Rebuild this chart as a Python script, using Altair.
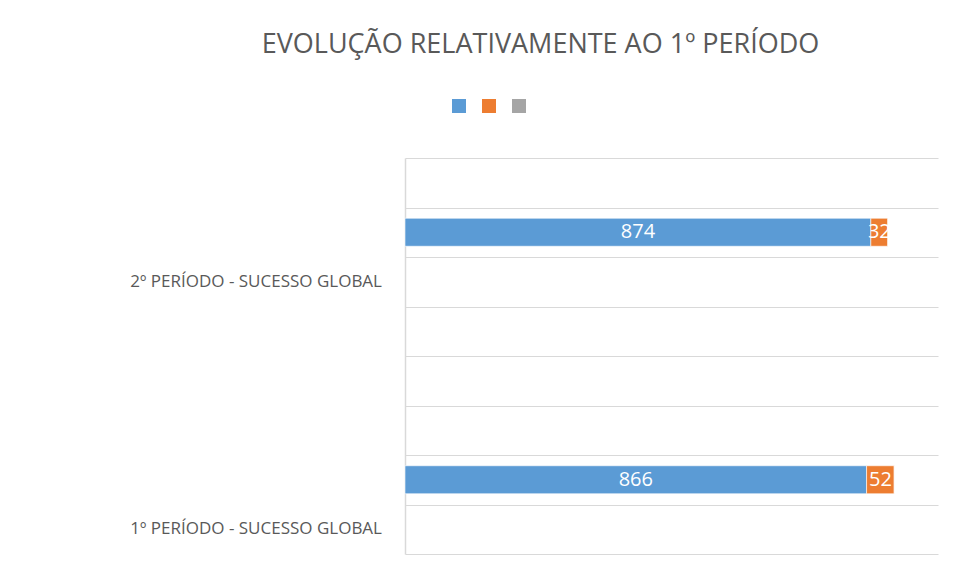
import altair as alt
import pandas as pd

# ---- data ----
categories = ["2º PERÍODO - SUCESSO GLOBAL", "1º PERÍODO - SUCESSO GLOBAL"]
series_names = ["Série1", "Série2", "Série3"]
serie1 = [874, 866]
serie2 = [32, 52]
serie3 = [0, 0]
title_text = "EVOLUÇÃO RELATIVAMENTE AO 1º PERÍODO"

# ---- styling / layout ----
colors = ["#5b9bd5", "#ed7d31", "#a5a5a5"]
N_ROWS = 8               # grid rows drawn in the plot area
BAR_ROW = [1.5, 6.5]     # row centre of each category's bar
FONT = "Open Sans"
GREY = "#595959"

rows = []
for i, cat in enumerate(categories):
    for s, vals in enumerate([serie1, serie2, serie3]):
        rows.append(dict(cat=cat, series=series_names[s], order=s,
                         value=vals[i], ypos=BAR_ROW[i]))
df = pd.DataFrame(rows)
lab = pd.DataFrame(dict(cat=categories, ypos=[BAR_ROW[i] + 1 for i in range(len(categories))]))

yscale = alt.Scale(domain=[0, N_ROWS], reverse=True, nice=False, zero=False, padding=0)
xscale = alt.Scale(domain=[0, 1000], nice=False, padding=0)

base = alt.Chart(df)

bars = base.mark_bar(orient="horizontal", size=28, stroke="white", strokeWidth=0.6).encode(
    y=alt.Y("ypos:Q", scale=yscale,
            axis=alt.Axis(values=list(range(N_ROWS + 1)), labels=False, ticks=False,
                          title=None, grid=True, gridColor="#d9d9d9", gridWidth=1,
                          domainColor="#d9d9d9", domainWidth=1.5)),
    x=alt.X("value:Q", stack="zero", scale=xscale, axis=None),
    color=alt.Color("series:N", scale=alt.Scale(domain=series_names, range=colors),
                    legend=alt.Legend(orient="none", legendX=47, legendY=-59,
                                      direction="horizontal", labelExpr="''",
                                      symbolType="square", symbolSize=196,
                                      symbolStrokeWidth=0, labelOffset=4,
                                      columnPadding=12, title=None, padding=0)),
    order=alt.Order("order:Q"),
)

values_txt = base.transform_filter("datum.value > 0").transform_stack(
    stack="value", groupby=["cat"], as_=["x0", "x1"], sort=[alt.SortField("order")]
).transform_calculate(mid="(datum.x0 + datum.x1) / 2").mark_text(
    color="white", fontSize=20, font=FONT
).encode(
    x=alt.X("mid:Q", scale=xscale, axis=None),
    y=alt.Y("ypos:Q", scale=yscale),
    text="value:Q",
)

labels = alt.Chart(lab).mark_text(align="right", fontSize=17, color=GREY, font=FONT).encode(
    x=alt.value(-23),
    y=alt.Y("ypos:Q", scale=yscale),
    text="cat:N",
)

chart = alt.layer(bars, values_txt, labels).properties(
    width=533,
    height=396,
    autosize="none",
    padding={"left": 397, "top": 150, "right": 10, "bottom": 10},
    title=alt.TitleParams(title_text, font=FONT, fontSize=27, fontWeight="normal",
                          color=GREY, anchor="middle", frame="group", dx=-131, offset=40),
).configure_view(stroke=None)

chart.save("out.html", embed_options={"renderer": "svg", "actions": False})
